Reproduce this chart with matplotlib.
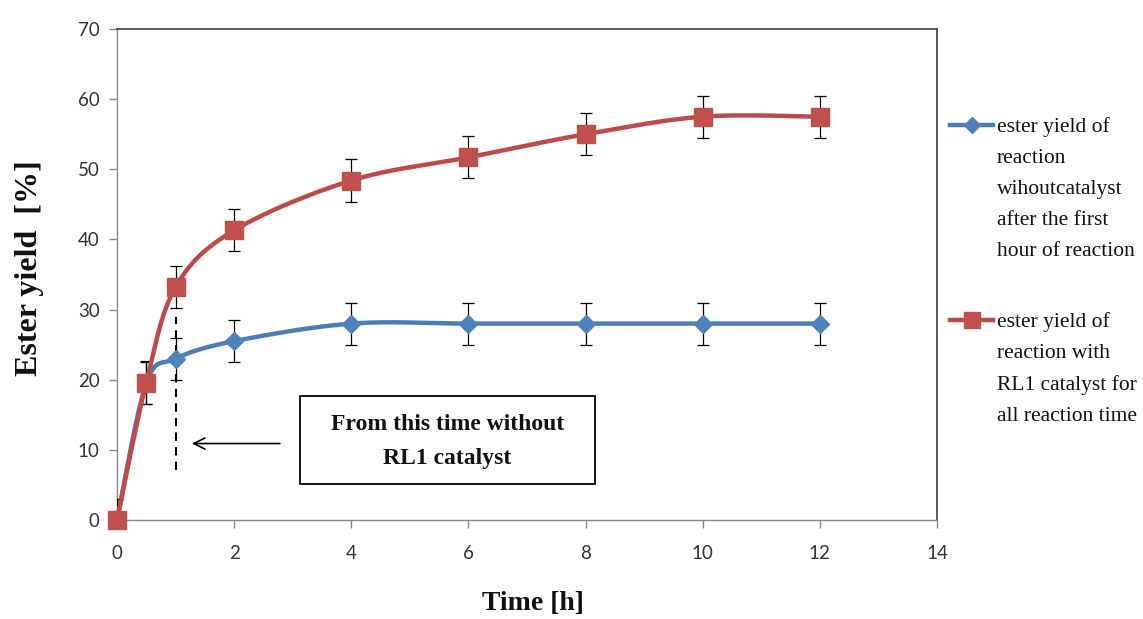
import numpy as np
import matplotlib
matplotlib.use("Agg")
import matplotlib.pyplot as plt
from matplotlib.lines import Line2D
from matplotlib.patches import Rectangle

# ---- data ----
time_h = [0, 0.5, 1, 2, 4, 6, 8, 10, 12]
yield_no_cat = [0, 19.5, 23.0, 25.5, 28.0, 28.0, 28.0, 28.0, 28.0]
yield_cat = [0, 19.6, 33.2, 41.3, 48.4, 51.7, 55.0, 57.5, 57.5]
err_no_cat = [3, 3, 3, 3, 3, 3, 3, 3, 3]
err_cat = [3, 3, 3, 3, 3, 3, 3, 3, 3]
label_no_cat = "ester yield of\nreaction\nwihoutcatalyst\nafter the first\nhour of reaction"
label_cat = "ester yield of\nreaction with\nRL1 catalyst for\nall reaction time"
xticks = [0, 2, 4, 6, 8, 10, 12, 14]
yticks = [0, 10, 20, 30, 40, 50, 60, 70]

BLUE_LINE, BLUE_MARK = "#4A7EBB", "#4F81BD"
RED_LINE, RED_MARK = "#BE4B48", "#C0504D"
SERIF = ["Liberation Serif", "DejaVu Serif"]


def smooth(x, y, n=40):
    """Excel-like smoothed line (Catmull-Rom / Bezier with 1/6 tension)."""
    P = np.column_stack([x, y]).astype(float)
    out = []
    for i in range(len(P) - 1):
        p0 = P[i - 1] if i > 0 else P[i]
        p1, p2 = P[i], P[i + 1]
        p3 = P[i + 2] if i + 2 < len(P) else P[i + 1]
        c1 = p1 + (p2 - p0) / 6.0
        c2 = p2 - (p3 - p1) / 6.0
        t = np.linspace(0, 1, n)[:, None]
        seg = ((1 - t) ** 3) * p1 + 3 * ((1 - t) ** 2) * t * c1 + 3 * (1 - t) * t ** 2 * c2 + t ** 3 * p2
        out.append(seg if i == 0 else seg[1:])
    s = np.vstack(out)
    return s[:, 0], s[:, 1]


fig = plt.figure(figsize=(11.43, 6.19), dpi=100)
ax = fig.add_axes([117 / 1143, 1 - 520 / 619, 820 / 1143, 491 / 619])

# blue series
sx, sy = smooth(time_h, yield_no_cat)
ax.plot(sx, sy, color=BLUE_LINE, lw=3.2, zorder=3, solid_capstyle="round", clip_on=False)
ax.errorbar(time_h, yield_no_cat, yerr=err_no_cat, fmt="none", ecolor="black",
            elinewidth=0.9, capsize=4, capthick=0.9, zorder=2)
ax.plot(time_h, yield_no_cat, ls="none", marker="D", ms=9.5, color=BLUE_MARK,
        mec=BLUE_MARK, zorder=4, clip_on=False)

# red series
sx, sy = smooth(time_h, yield_cat)
ax.plot(sx, sy, color=RED_LINE, lw=3.2, zorder=5, solid_capstyle="round", clip_on=False)
ax.errorbar(time_h, yield_cat, yerr=err_cat, fmt="none", ecolor="black",
            elinewidth=0.9, capsize=4, capthick=0.9, zorder=4.5)
ax.plot(time_h, yield_cat, ls="none", marker="s", ms=12.5, color=RED_MARK,
        mec=RED_MARK, zorder=6, clip_on=False)

# annotations
ax.plot([1, 1], [7.1, 29.0], color="black", lw=1.5, ls=(0, (4, 3)), zorder=1)
ax.annotate("", xy=(1.28, 10.9), xytext=(2.78, 10.9),
            arrowprops=dict(arrowstyle="->,head_length=0.8,head_width=0.4",
                            color="black", lw=1.2, shrinkA=0, shrinkB=0))
ax.add_patch(Rectangle((3.12, 5.1), 5.04, 12.6, fill=False, ec="black", lw=1.3, zorder=3))
ax.text(5.64, 11.2, "From this time without\nRL1 catalyst", ha="center", va="center",
        family=SERIF, fontweight="bold", fontsize=17, linespacing=1.8, color="#111111")

# axes styling
ax.set_xlim(0, 14)
ax.set_ylim(0, 70)
ax.set_xticks(xticks)
ax.set_yticks(yticks)
for side in ["left", "bottom"]:
    ax.spines[side].set_color("#898989")
    ax.spines[side].set_linewidth(1.0)
for side in ["top", "right"]:
    ax.spines[side].set_color("#404040")
    ax.spines[side].set_linewidth(1.2)
ax.tick_params(axis="both", direction="out", length=5.5, width=1.0, color="#898989",
               labelsize=13.5, labelcolor="#333333")
ax.tick_params(axis="y", pad=7)
ax.tick_params(axis="x", pad=12.5)
for lab in ax.get_xticklabels() + ax.get_yticklabels():
    lab.set_family(["Lato", "DejaVu Sans"])

fig.text(30 / 1143, 1 - 268 / 619, "Ester yield  [%]", rotation=90, ha="center", va="center",
         family=SERIF, fontweight="bold", fontsize=23, color="#111111")
fig.text(533 / 1143, 1 - 603 / 619, "Time [h]", ha="center", va="center",
         family=SERIF, fontweight="bold", fontsize=20, color="#111111")

# legend (manual)
def legend_entry(y_px, color_line, color_mark, marker, ms, text):
    yf = 1 - y_px / 619
    fig.add_artist(Line2D([950 / 1143, 993 / 1143], [yf, yf], color=color_line, lw=3.2,
                          transform=fig.transFigure))
    fig.add_artist(Line2D([972 / 1143], [yf], marker=marker, ms=ms, color=color_mark,
                          mec=color_mark, transform=fig.transFigure))
    fig.text(997 / 1143, yf + 8 / 619, text, ha="left", va="top", family=SERIF,
             fontsize=15.5, linespacing=1.85, color="#111111")

legend_entry(125, BLUE_LINE, BLUE_MARK, "D", 8, label_no_cat)
legend_entry(320, RED_LINE, RED_MARK, "s", 11, label_cat)

fig.savefig("out.png", dpi=100)
